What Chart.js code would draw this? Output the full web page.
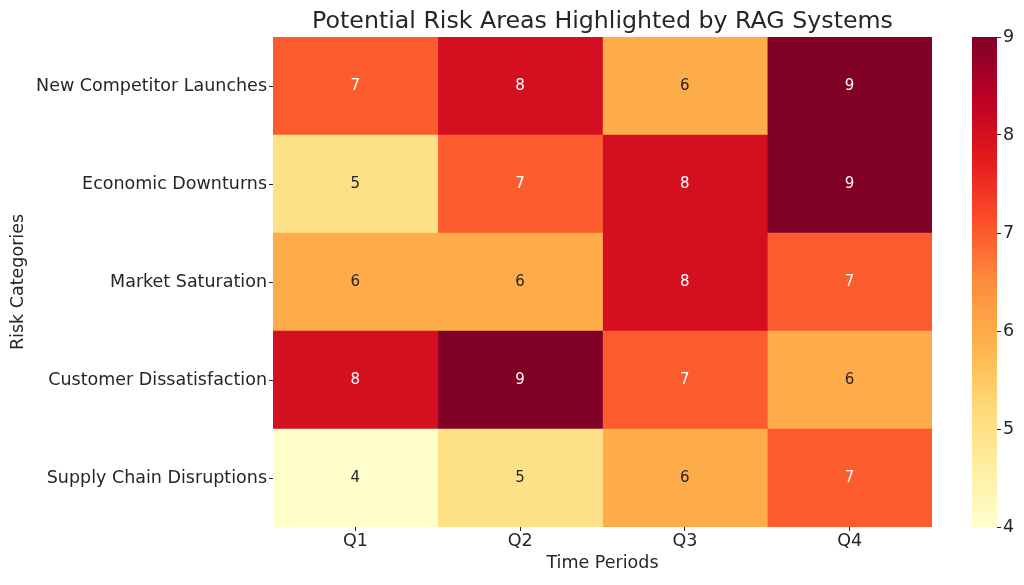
<!DOCTYPE html>
<html>
<head>
<meta charset="utf-8">
<script src="https://cdn.jsdelivr.net/npm/chart.js@4.4.1/dist/chart.umd.min.js"></script>
<style>
  body { margin: 0; background: #fff; }
  #wrap { position: relative; width: 1024px; height: 585px; }
  #heatmap { position: absolute; left: 0; top: 0; }
  #colorbar { position: absolute; left: 960px; top: 0; }
</style>
</head>
<body>
<div id="wrap">
  <canvas id="heatmap" width="1024" height="585"></canvas>
  <canvas id="colorbar" width="64" height="585"></canvas>
</div>
<script>
const categories = [
  "New Competitor Launches",
  "Economic Downturns",
  "Market Saturation",
  "Customer Dissatisfaction",
  "Supply Chain Disruptions"
];
const quarters = ["Q1", "Q2", "Q3", "Q4"];
// one array per quarter, rows top to bottom
const q1 = [7, 5, 6, 8, 4];
const q2 = [8, 7, 6, 9, 5];
const q3 = [6, 8, 8, 7, 6];
const q4 = [9, 9, 7, 6, 7];
const series = [q1, q2, q3, q4];
const vmin = 4;
const vmax = 9;
const colorTicks = [4, 5, 6, 7, 8, 9];
const chartTitle = "Potential Risk Areas Highlighted by RAG Systems";

const textColor = "#262626";
const font = "'DejaVu Sans', sans-serif";

// YlOrRd colormap stops
const ylOrRd = ["#ffffcc", "#ffeda0", "#fed976", "#feb24c", "#fd8d3c", "#fc4e2a", "#e31a1c", "#bd0026", "#800026"];

function hexToRgb(h) {
  return [parseInt(h.slice(1, 3), 16), parseInt(h.slice(3, 5), 16), parseInt(h.slice(5, 7), 16)];
}

function cmap(v) {
  let t = (v - vmin) / (vmax - vmin);
  t = Math.max(0, Math.min(1, t));
  const pos = t * (ylOrRd.length - 1);
  const i = Math.min(Math.floor(pos), ylOrRd.length - 2);
  const f = pos - i;
  const a = hexToRgb(ylOrRd[i]);
  const b = hexToRgb(ylOrRd[i + 1]);
  return a.map((x, k) => Math.round(x + (b[k] - x) * f));
}

function cssColor(v) {
  const c = cmap(v);
  return `rgb(${c[0]},${c[1]},${c[2]})`;
}

function labelColor(v) {
  const lin = cmap(v).map(x => {
    x /= 255;
    return x <= 0.03928 ? x / 12.92 : Math.pow((x + 0.055) / 1.055, 2.4);
  });
  const lum = 0.2126 * lin[0] + 0.7152 * lin[1] + 0.0722 * lin[2];
  return lum > 0.408 ? textColor : "#ffffff";
}

const cellLabels = {
  id: "cellLabels",
  afterDatasetsDraw(chart) {
    const ctx = chart.ctx;
    ctx.save();
    ctx.font = `15px ${font}`;
    ctx.textAlign = "center";
    ctx.textBaseline = "middle";
    chart.data.datasets.forEach((ds, di) => {
      chart.getDatasetMeta(di).data.forEach((bar, i) => {
        const v = ds.values[i];
        const p = bar.getCenterPoint();
        ctx.fillStyle = labelColor(v);
        ctx.fillText(String(v), p.x, p.y);
      });
    });
    ctx.restore();
  }
};

// title centred over the heatmap cells, like matplotlib does
const axesTitle = {
  id: "axesTitle",
  afterDraw(chart) {
    const { ctx, chartArea } = chart;
    ctx.save();
    ctx.font = `23.7px ${font}`;
    ctx.fillStyle = textColor;
    ctx.textAlign = "center";
    ctx.textBaseline = "alphabetic";
    ctx.fillText(chartTitle, (chartArea.left + chartArea.right) / 2, chartArea.top - 9);
    ctx.restore();
  }
};

new Chart(document.getElementById("heatmap"), {
  type: "bar",
  data: {
    labels: categories,
    datasets: series.map((vals, qi) => ({
      label: quarters[qi],
      data: vals.map(() => 1),
      values: vals,
      backgroundColor: vals.map(cssColor),
      borderWidth: 0,
      barPercentage: 1,
      categoryPercentage: 1,
    })),
  },
  options: {
    indexAxis: "y",
    responsive: false,
    animation: false,
    layout: { padding: { left: 0, right: 92, top: 37, bottom: 0 } },
    plugins: {
      legend: { display: false },
      tooltip: { enabled: false },
      title: { display: false },
    },
    scales: {
      x: {
        type: "linear",
        stacked: true,
        min: 0,
        max: quarters.length,
        afterBuildTicks: (scale) => {
          scale.ticks = quarters.map((q, i) => ({ value: i + 0.5 }));
        },
        afterFit: (scale) => { scale.height = 58; },
        ticks: {
          color: textColor,
          font: { family: font, size: 17.5 },
          padding: 0,
          maxRotation: 0,
          callback: (v) => quarters[Math.floor(v)],
        },
        grid: { drawOnChartArea: false, tickLength: 4, tickColor: textColor, tickWidth: 1 },
        border: { display: false },
        title: {
          display: true,
          text: "Time Periods",
          color: textColor,
          font: { family: font, size: 17.5 },
          padding: { top: 0, bottom: 11 },
        },
      },
      y: {
        stacked: true,
        afterFit: (scale) => { scale.width = 273; },
        ticks: {
          color: textColor,
          font: { family: font, size: 17.5 },
          padding: 2,
        },
        grid: { drawOnChartArea: false, tickLength: 4, tickColor: textColor, tickWidth: 1, offset: false },
        border: { display: false },
        title: {
          display: true,
          text: "Risk Categories",
          color: textColor,
          font: { family: font, size: 17.5 },
          padding: { top: 8, bottom: 0 },
        },
      },
    },
  },
  plugins: [cellLabels, axesTitle],
});

// colorbar
new Chart(document.getElementById("colorbar"), {
  type: "bar",
  data: {
    labels: [""],
    datasets: [{
      data: [[vmin, vmax]],
      borderWidth: 0,
      barPercentage: 1,
      categoryPercentage: 1,
      backgroundColor: (context) => {
        const area = context.chart.chartArea;
        if (!area) return cssColor(vmax);
        const g = context.chart.ctx.createLinearGradient(0, area.bottom, 0, area.top);
        for (let k = 0; k <= 40; k++) {
          const t = k / 40;
          g.addColorStop(t, cssColor(vmin + t * (vmax - vmin)));
        }
        return g;
      },
    }],
  },
  options: {
    responsive: false,
    animation: false,
    layout: { padding: { left: 12, right: 0, top: 37, bottom: 58 } },
    plugins: { legend: { display: false }, tooltip: { enabled: false } },
    scales: {
      x: { display: false },
      y: {
        position: "right",
        min: vmin,
        max: vmax,
        afterBuildTicks: (scale) => {
          scale.ticks = colorTicks.map(v => ({ value: v }));
        },
        afterFit: (scale) => { scale.width = 27; },
        ticks: {
          color: textColor,
          font: { family: font, size: 17.5 },
          padding: 2,
        },
        grid: { drawOnChartArea: false, tickLength: 4, tickColor: textColor, tickWidth: 1 },
        border: { display: false },
      },
    },
  },
});
</script>
</body>
</html>
